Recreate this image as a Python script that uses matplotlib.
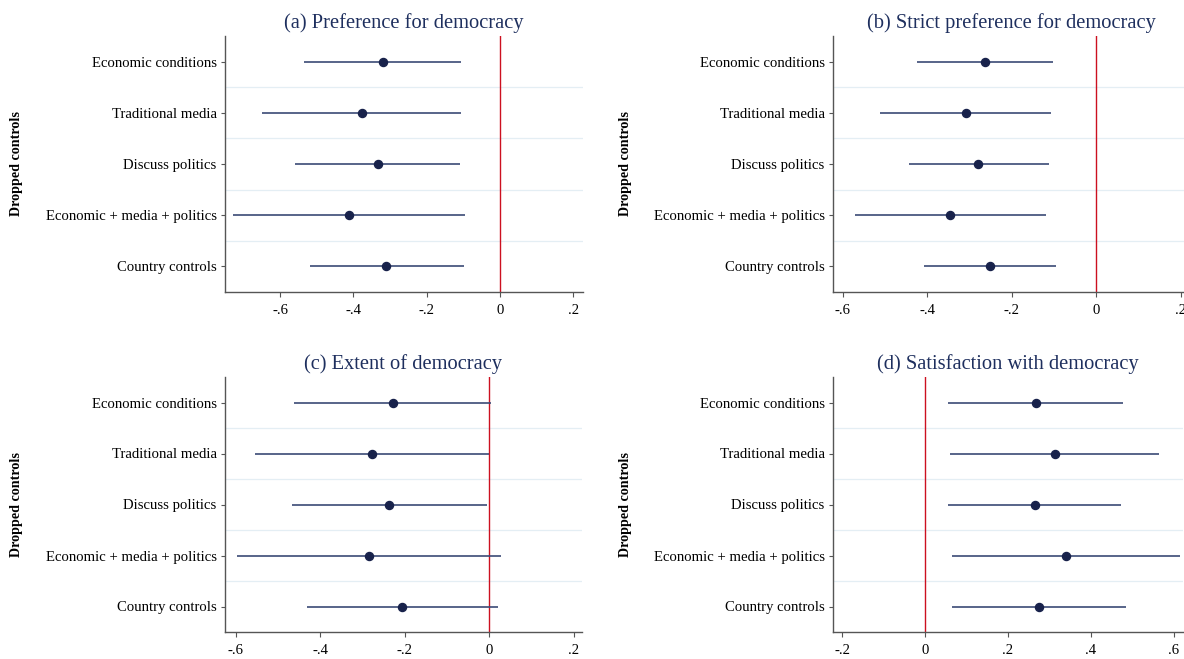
import numpy as np
import matplotlib
matplotlib.use("Agg")
import matplotlib.pyplot as plt

plt.rcParams["font.family"] = ["Liberation Serif", "DejaVu Serif"]

# Dropped-control specifications (top to bottom)
CATEGORIES = ["Economic conditions", "Traditional media", "Discuss politics",
              "Economic + media + politics", "Country controls"]

PANEL_TITLES = ["(a) Preference for democracy",
                "(b) Strict preference for democracy",
                "(c) Extent of democracy",
                "(d) Satisfaction with democracy"]

# point estimates and 95% CI bounds
a_coef = [-0.319, -0.377, -0.334, -0.412, -0.310]
a_lo   = [-0.534, -0.648, -0.559, -0.727, -0.518]
a_hi   = [-0.106, -0.106, -0.108, -0.097, -0.098]

b_coef = [-0.263, -0.309, -0.279, -0.346, -0.251]
b_lo   = [-0.423, -0.511, -0.444, -0.572, -0.408]
b_hi   = [-0.103, -0.107, -0.112, -0.119, -0.095]

c_coef = [-0.228, -0.276, -0.237, -0.284, -0.205]
c_lo   = [-0.461, -0.554, -0.467, -0.597, -0.431]
c_hi   = [0.005, 0.000, -0.006, 0.029, 0.021]

d_coef = [0.267, 0.313, 0.265, 0.340, 0.275]
d_lo   = [0.055, 0.060, 0.056, 0.064, 0.066]
d_hi   = [0.478, 0.565, 0.473, 0.615, 0.485]

TICKS = [[-0.6, -0.4, -0.2, 0, 0.2],
         [-0.6, -0.4, -0.2, 0, 0.2],
         [-0.6, -0.4, -0.2, 0, 0.2],
         [-0.2, 0, 0.2, 0.4, 0.6]]
TICK_LABELS = [["-.6", "-.4", "-.2", "0", ".2"],
               ["-.6", "-.4", "-.2", "0", ".2"],
               ["-.6", "-.4", "-.2", "0", ".2"],
               ["-.2", "0", ".2", ".4", ".6"]]
XLIMS = [(-0.75, 0.226), (-0.623, 0.22), (-0.625, 0.22), (-0.222, 0.622)]

TITLE_COLOR = "#1e2f5e"
DOT_COLOR   = "#18224b"
LINE_COLOR  = "#3b4a75"
ZERO_COLOR  = "#cc1020"
GRID_COLOR  = "#e4eef4"
SPINE_COLOR = "#555555"

W, H = 1184, 659
# axes boxes in pixels: left, right, top, bottom
BOXES = [(225, 583, 36, 292), (833, 1189, 36, 292),
         (225, 582, 377, 632), (833, 1183, 377, 632)]
YLABEL_X = [17, 625, 17, 625]


def draw_panel(ax, coef, lo, hi, title, ticks, ticklabels, xlim):
    y = np.arange(1, len(CATEGORIES) + 1)
    for yy in y[:-1] + 0.5:
        ax.axhline(yy, color=GRID_COLOR, linewidth=0.9, zorder=0)
    ax.axvline(0, color=ZERO_COLOR, linewidth=1.0, zorder=1)
    ax.hlines(y, lo, hi, color=LINE_COLOR, linewidth=1.2, zorder=2)
    ax.plot(coef, y, "o", color=DOT_COLOR, markersize=5.8, zorder=3)

    ax.set_ylim(len(CATEGORIES) + 0.5, 0.5)
    ax.set_xlim(*xlim)
    ax.set_yticks(y)
    ax.set_yticklabels(CATEGORIES, fontsize=10.6)
    ax.set_xticks(ticks)
    ax.set_xticklabels(ticklabels, fontsize=10.6)
    ax.tick_params(axis="y", length=3, width=0.8, pad=3, color=SPINE_COLOR)
    ax.tick_params(axis="x", length=3.5, width=0.8, pad=5, color=SPINE_COLOR)

    for side in ("top", "right"):
        ax.spines[side].set_visible(False)
    for side in ("left", "bottom"):
        ax.spines[side].set_color(SPINE_COLOR)
        ax.spines[side].set_linewidth(1.0)

    ax.text(0.5, 1 + 13 / 256, title, transform=ax.transAxes,
            ha="center", va="center", fontsize=14.8, color=TITLE_COLOR)


fig = plt.figure(figsize=(W / 100, H / 100), dpi=100, facecolor="white")

panels = [(a_coef, a_lo, a_hi), (b_coef, b_lo, b_hi),
          (c_coef, c_lo, c_hi), (d_coef, d_lo, d_hi)]

for i, (coef, lo, hi) in enumerate(panels):
    l, r, t, b = BOXES[i]
    ax = fig.add_axes([l / W, 1 - b / H, (r - l) / W, (b - t) / H])
    draw_panel(ax, coef, lo, hi, PANEL_TITLES[i], TICKS[i], TICK_LABELS[i], XLIMS[i])
    fig.text(YLABEL_X[i] / W, 1 - (t + b) / 2 / H, "Dropped controls",
             rotation=90, ha="center", va="center",
             fontsize=10.2, fontweight="bold", color="black")

fig.savefig("out.png", dpi=100, facecolor="white")
